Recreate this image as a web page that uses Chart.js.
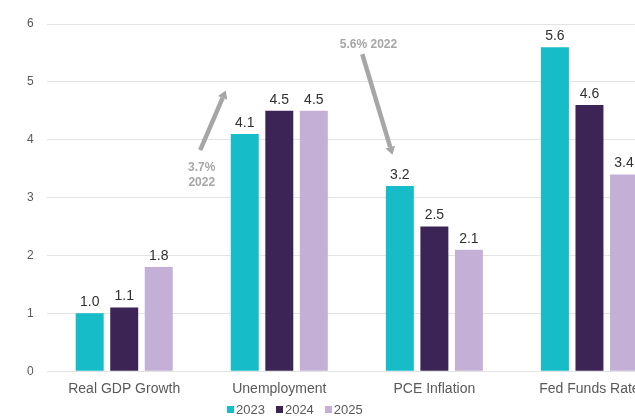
<!DOCTYPE html>
<html>
<head>
<meta charset="utf-8">
<script src="https://cdn.jsdelivr.net/npm/chart.js@4/dist/chart.umd.min.js"></script>
<style>
  html, body { margin: 0; padding: 0; background: #fff; overflow: hidden; }
  #wrap { position: relative; width: 635px; height: 419px; overflow: hidden; }
  #chart { position: absolute; left: 0; top: 0; }
  #legend {
    position: absolute; left: 227px; top: 402px;
    display: flex; align-items: center;
    font-family: "Liberation Sans", Arial, sans-serif; font-size: 13px; color: #595959;
  }
  #legend span.item { display: flex; align-items: center; margin-right: 11px; }
  #legend i { display: inline-block; width: 7px; height: 7px; margin-right: 2px; }
</style>
</head>
<body>
<div id="wrap">
  <canvas id="chart" width="670" height="419"></canvas>
  <div id="legend"></div>
</div>
<script>
const categories = ['Real GDP Growth', 'Unemployment', 'PCE Inflation', 'Fed Funds Rate'];
const years = ['2023', '2024', '2025'];
const values2023 = [1.0, 4.1, 3.2, 5.6];
const values2024 = [1.1, 4.5, 2.5, 4.6];
const values2025 = [1.8, 4.5, 2.1, 3.4];
const yTicks = [0, 1, 2, 3, 4, 5, 6];
const colors = ['#17bcc9', '#3c2556', '#c4afd7'];

// 2022 reference notes with arrows, placed in data units
const notes = [
  { lines: ['3.7%', '2022'], x: 0.5, y: [3.52, 3.26], from: [0.49, 3.82], to: [0.655, 4.85] },
  { lines: ['5.6% 2022'], x: 1.575, y: [5.64], from: [1.535, 5.48], to: [1.73, 3.74] }
];

const valueLabels = {
  id: 'valueLabels',
  afterDatasetsDraw(chart) {
    const ctx = chart.ctx;
    ctx.save();
    ctx.font = '14px "Liberation Sans", Arial, sans-serif';
    ctx.fillStyle = '#303030';
    ctx.textAlign = 'center';
    ctx.textBaseline = 'bottom';
    chart.data.datasets.forEach((ds, i) => {
      chart.getDatasetMeta(i).data.forEach((bar, j) => {
        ctx.fillText(ds.data[j].toFixed(1), bar.x, bar.y - 4);
      });
    });
    ctx.restore();
  }
};

const arrowNotes = {
  id: 'arrowNotes',
  afterDatasetsDraw(chart) {
    const ctx = chart.ctx;
    const xs = chart.scales.x, ys = chart.scales.y;
    ctx.save();
    ctx.fillStyle = '#a6a6a6';
    ctx.strokeStyle = '#a6a6a6';
    ctx.font = 'bold 12px "Liberation Sans", Arial, sans-serif';
    ctx.textAlign = 'center';
    ctx.textBaseline = 'middle';
    notes.forEach(n => {
      n.lines.forEach((t, k) => ctx.fillText(t, xs.getPixelForValue(n.x), ys.getPixelForValue(n.y[k])));
      const x1 = xs.getPixelForValue(n.from[0]), y1 = ys.getPixelForValue(n.from[1]);
      const x2 = xs.getPixelForValue(n.to[0]), y2 = ys.getPixelForValue(n.to[1]);
      const a = Math.atan2(y2 - y1, x2 - x1);
      const head = 8;
      ctx.lineWidth = 4.5;
      ctx.beginPath();
      ctx.moveTo(x1, y1);
      ctx.lineTo(x2 - Math.cos(a) * head, y2 - Math.sin(a) * head);
      ctx.stroke();
      ctx.beginPath();
      ctx.moveTo(x2, y2);
      ctx.lineTo(x2 - Math.cos(a) * head + Math.cos(a + Math.PI / 2) * 5, y2 - Math.sin(a) * head + Math.sin(a + Math.PI / 2) * 5);
      ctx.lineTo(x2 - Math.cos(a) * head - Math.cos(a + Math.PI / 2) * 5, y2 - Math.sin(a) * head - Math.sin(a + Math.PI / 2) * 5);
      ctx.closePath();
      ctx.fill();
    });
    ctx.restore();
  }
};

const chart = new Chart(document.getElementById('chart'), {
  type: 'bar',
  data: {
    labels: categories,
    datasets: [
      { label: years[0], data: values2023, backgroundColor: colors[0] },
      { label: years[1], data: values2024, backgroundColor: colors[1] },
      { label: years[2], data: values2025, backgroundColor: colors[2] }
    ]
  },
  options: {
    responsive: false,
    animation: false,
    events: [],
    layout: { padding: { top: 24, left: 14, right: 3, bottom: 11 } },
    datasets: { bar: { barPercentage: 0.81, categoryPercentage: 0.668 } },
    scales: {
      x: {
        grid: { display: false, drawTicks: false },
        border: { display: false },
        ticks: { color: '#595959', padding: 10, font: { family: '"Liberation Sans", Arial, sans-serif', size: 14 } }
      },
      y: {
        min: 0, max: 6,
        afterBuildTicks: s => { s.ticks = yTicks.map(v => ({ value: v })); },
        grid: { color: '#e3e3e3', drawTicks: false },
        border: { display: false },
        ticks: { color: '#595959', padding: 13, font: { family: '"Liberation Sans", Arial, sans-serif', size: 12 } }
      }
    },
    plugins: { legend: { display: false }, tooltip: { enabled: false } }
  },
  plugins: [valueLabels, arrowNotes]
});

// legend below the axis
const legend = document.getElementById('legend');
chart.data.datasets.forEach(ds => {
  const item = document.createElement('span');
  item.className = 'item';
  item.innerHTML = '<i style="background:' + ds.backgroundColor + '"></i>' + ds.label;
  legend.appendChild(item);
});
</script>
</body>
</html>
